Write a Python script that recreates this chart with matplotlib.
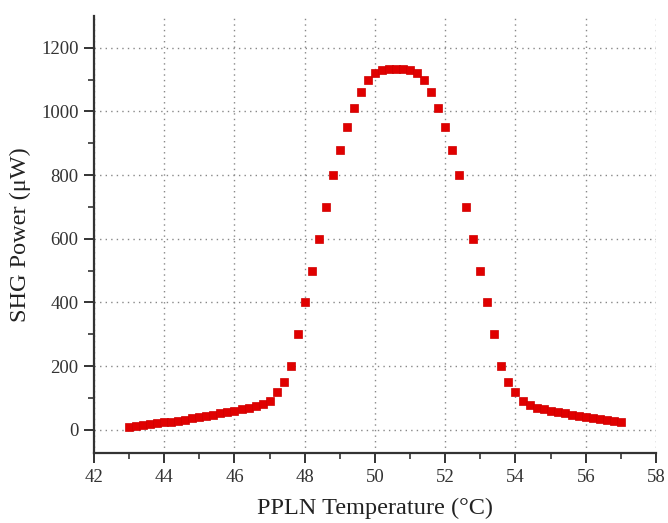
import numpy as np
import matplotlib.pyplot as plt

plt.rcParams['font.family'] = ['Liberation Serif', 'DejaVu Serif']

# temperature scan, 0.2 C steps
temps = [43.0 + 0.2 * i for i in range(71)]
power = [10, 12, 14, 17, 20, 23, 26, 29, 32, 36,
         40, 44, 48, 52, 56, 60, 65, 70, 75, 82,
         90, 120, 150, 200, 300, 400, 500, 600, 700, 800,
         880, 950, 1010, 1060, 1100, 1120, 1130, 1135, 1135, 1135,
         1130, 1120, 1100, 1060, 1010, 950, 880, 800, 700, 600,
         500, 400, 300, 200, 150, 120, 90, 78, 70, 65,
         60, 56, 52, 48, 44, 40, 37, 34, 31, 28, 25]

xticks = [42, 44, 46, 48, 50, 52, 54, 56, 58]
yticks = [0, 200, 400, 600, 800, 1000, 1200]

fig = plt.figure(figsize=(6.68, 5.23), dpi=100)
ax = fig.add_axes([0.1407, 0.1344, 0.8413, 0.8350])

ax.plot(temps, power, linestyle='none', marker='s', markersize=5.3,
        color='#e00000', markeredgecolor='#d00000', markeredgewidth=0.5, zorder=3)

ax.set_xlim(42, 58)
ax.set_ylim(-72, 1300)
ax.set_xticks(xticks)
ax.set_yticks(yticks)
ax.set_xticks(np.arange(43, 58, 2), minor=True)
ax.set_yticks(np.arange(100, 1300, 200), minor=True)

ax.grid(True, which='major', color='#888888', linestyle=(0, (1, 3)), linewidth=1.0)
ax.set_axisbelow(True)

for s in ['top', 'right']:
    ax.spines[s].set_visible(False)
for s in ['left', 'bottom']:
    ax.spines[s].set_linewidth(1.6)
    ax.spines[s].set_color('#333333')

ax.tick_params(which='major', direction='out', length=7, width=1.4,
               color='#333333', labelsize=13.5, labelcolor='#333333')
ax.tick_params(which='minor', direction='out', length=4, width=1.2, color='#333333')
ax.tick_params(axis='x', which='major', pad=5)
ax.tick_params(axis='y', which='major', pad=4)

ax.set_xlabel('PPLN Temperature (°C)', fontsize=17.5, color='#222222', labelpad=8)
ax.set_ylabel('SHG Power (μW)', fontsize=17.5, color='#222222', labelpad=7)

fig.savefig('out.png', dpi=100)
